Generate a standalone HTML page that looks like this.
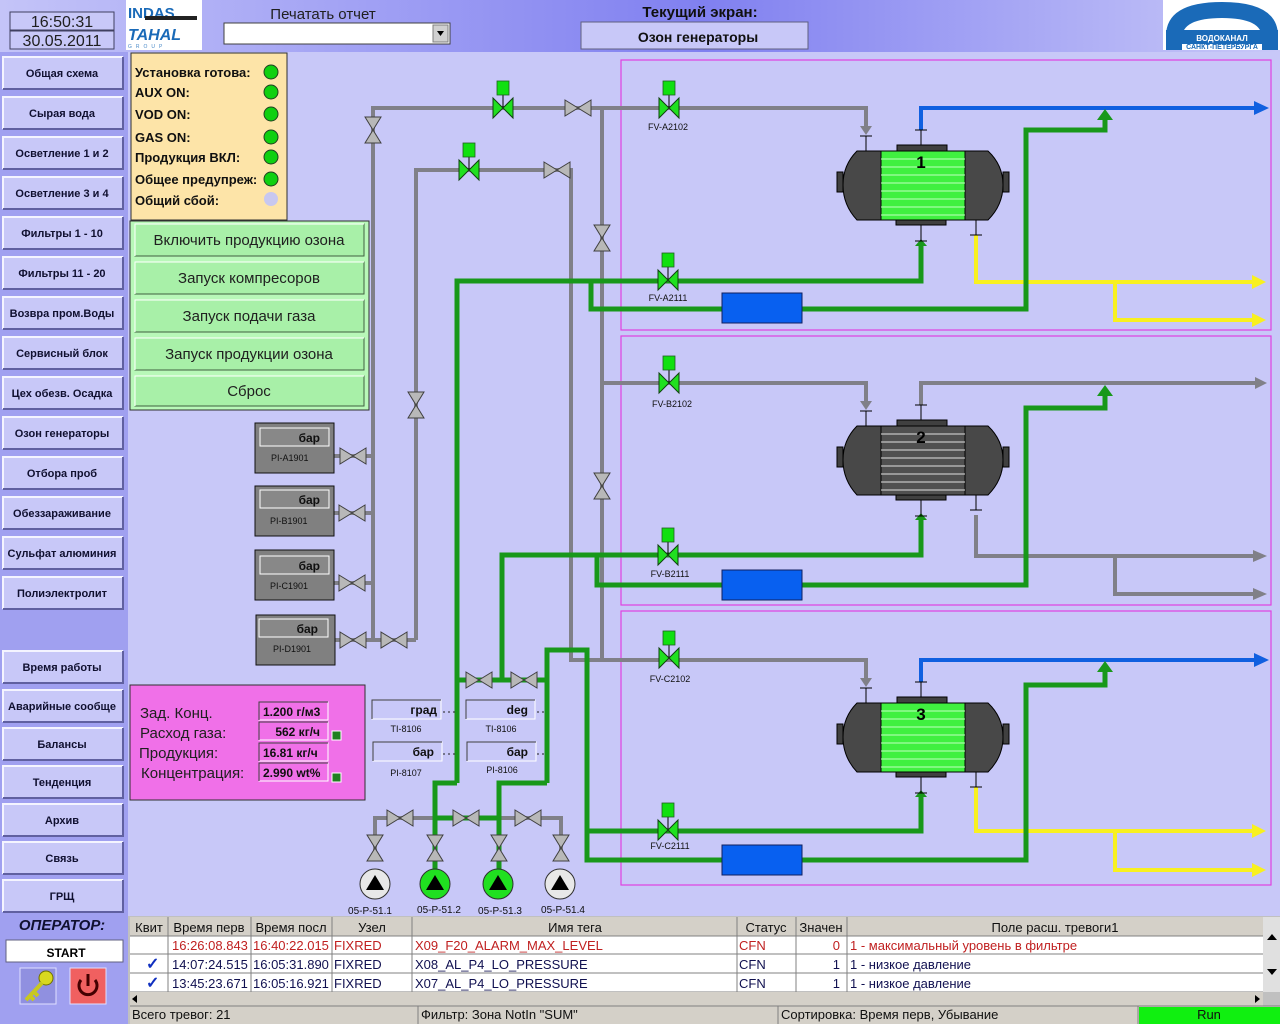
<!DOCTYPE html>
<html><head><meta charset="utf-8"><style>
html,body{margin:0;padding:0;background:#c8c8f8;}
svg{display:block;font-family:"Liberation Sans",sans-serif;}
</style></head><body>
<svg width="1280" height="1024" viewBox="0 0 1280 1024" xmlns="http://www.w3.org/2000/svg">
<defs>
<linearGradient id="hdr" x1="0" x2="1" y1="0" y2="0">
<stop offset="0" stop-color="#c4c4f8"/><stop offset="0.55" stop-color="#8080f0"/><stop offset="1" stop-color="#c8c8f8"/></linearGradient>
<g id="vh"><path d="M-13,-8 L0,0 L-13,8Z M13,-8 L0,0 L13,8Z" fill="#b8b8b8" stroke="#404040" stroke-width="1"/></g>
<g id="vv"><path d="M-8,-13 L0,0 L8,-13Z M-8,13 L0,0 L8,13Z" fill="#b8b8b8" stroke="#404040" stroke-width="1"/></g>
<g id="cv"><line x1="0" y1="0" x2="0" y2="-14" stroke="#000" stroke-width="1"/><rect x="-6" y="-27" width="12" height="14" fill="#10e010" stroke="#206020" stroke-width="0.8"/><path d="M-10,-10 L0,0 L-10,10Z M10,-10 L0,0 L10,10Z" fill="#20e020" stroke="#104010" stroke-width="1"/></g>
<g id="btn"><rect x="0" y="0" width="120" height="32" fill="#c8c8f8"/><path d="M0,32 V0 H120" fill="none" stroke="#f4f4ff" stroke-width="2"/><path d="M0,32 H120 V0" fill="none" stroke="#6060a0" stroke-width="2"/></g>
</defs>

<!-- header -->
<rect x="0" y="0" width="1280" height="52" fill="url(#hdr)"/>
<rect x="0" y="52" width="128" height="864" fill="#a0a0f0"/>
<rect x="10" y="12" width="104" height="18" fill="#c8c8f8" stroke="#404060"/>
<rect x="10" y="31" width="104" height="18" fill="#c8c8f8" stroke="#404060"/>
<text x="62" y="27" font-size="16" text-anchor="middle" fill="#202020">16:50:31</text>
<text x="62" y="46" font-size="16" text-anchor="middle" fill="#202020">30.05.2011</text>
<rect x="126" y="0" width="76" height="50" fill="#fff"/>
<text x="128" y="18" font-size="15" font-weight="bold" fill="#1a6ab8">INDAS</text>
<rect x="145" y="16" width="52" height="4" fill="#222"/>
<text x="128" y="40" font-size="16" font-weight="bold" font-style="italic" fill="#1a6ab8">TAHAL</text>
<text x="128" y="48" font-size="5" fill="#4a8ac8" letter-spacing="4">GROUP</text>
<text x="323" y="19" font-size="15" text-anchor="middle" fill="#202020">Печатать отчет</text>
<rect x="224" y="23" width="226" height="21" fill="#fff" stroke="#404040"/>
<rect x="433" y="25" width="15" height="17" fill="#d0d0d0" stroke="#808080"/>
<path d="M437,31 h7 l-3.5,5z" fill="#000"/>
<text x="700" y="17" font-size="15" font-weight="bold" text-anchor="middle" fill="#101010">Текущий экран:</text>
<rect x="581" y="22" width="227" height="27" fill="#c8c8f8" stroke="#606080"/>
<text x="698" y="42" font-size="14" font-weight="bold" text-anchor="middle" fill="#101010">Озон генераторы</text>
<rect x="1163" y="0" width="117" height="50" fill="#fff"/>
<path d="M1166,50 V36 Q1166,2 1222,2 Q1278,2 1278,36 V50 H1262 V38 Q1262,18 1222,18 Q1182,18 1182,38 V50Z" fill="#1a6ab8"/>
<rect x="1166" y="30" width="112" height="14" fill="#1a6ab8"/>
<text x="1222" y="41" font-size="8" text-anchor="middle" fill="#fff" font-weight="bold">ВОДОКАНАЛ</text>
<text x="1222" y="49" font-size="7" text-anchor="middle" fill="#1a6ab8" font-weight="bold">САНКТ-ПЕТЕРБУРГА</text>

<!-- nav buttons -->
<g font-size="11" font-weight="bold" text-anchor="middle" fill="#101030">
<use href="#btn" x="3" y="57"/><text x="62" y="77">Общая схема</text>
<use href="#btn" x="3" y="97"/><text x="62" y="117">Сырая вода</text>
<use href="#btn" x="3" y="137"/><text x="62" y="157">Осветление 1 и 2</text>
<use href="#btn" x="3" y="177"/><text x="62" y="197">Осветление 3 и 4</text>
<use href="#btn" x="3" y="217"/><text x="62" y="237">Фильтры 1 - 10</text>
<use href="#btn" x="3" y="257"/><text x="62" y="277">Фильтры 11 - 20</text>
<use href="#btn" x="3" y="297"/><text x="62" y="317">Возвра пром.Воды</text>
<use href="#btn" x="3" y="337"/><text x="62" y="357">Сервисный блок</text>
<use href="#btn" x="3" y="377"/><text x="62" y="397">Цех обезв. Осадка</text>
<use href="#btn" x="3" y="417"/><text x="62" y="437">Озон генераторы</text>
<use href="#btn" x="3" y="457"/><text x="62" y="477">Отбора проб</text>
<use href="#btn" x="3" y="497"/><text x="62" y="517">Обеззараживание</text>
<use href="#btn" x="3" y="537"/><text x="62" y="557">Сульфат алюминия</text>
<use href="#btn" x="3" y="577"/><text x="62" y="597">Полиэлектролит</text>
<use href="#btn" x="3" y="651"/><text x="62" y="671">Время работы</text>
<use href="#btn" x="3" y="690"/><text x="62" y="710">Аварийные сообще</text>
<use href="#btn" x="3" y="728"/><text x="62" y="748">Балансы</text>
<use href="#btn" x="3" y="766"/><text x="62" y="786">Тенденция</text>
<use href="#btn" x="3" y="804"/><text x="62" y="824">Архив</text>
<use href="#btn" x="3" y="842"/><text x="62" y="862">Связь</text>
<use href="#btn" x="3" y="880"/><text x="62" y="900">ГРЩ</text>
</g>
<rect x="0" y="916" width="128" height="108" fill="#a0a0f0"/>
<text x="62" y="930" font-size="15" font-weight="bold" font-style="italic" text-anchor="middle" fill="#101030">ОПЕРАТОР:</text>
<rect x="6" y="940" width="117" height="22" fill="#fff" stroke="#606080"/>
<text x="66" y="957" font-size="12" font-weight="bold" text-anchor="middle">START</text>
<rect x="20" y="968" width="36" height="36" fill="#9090e0" stroke="#e0e0ff"/>
<circle cx="46" cy="978" r="7" fill="#d8d820" stroke="#707000"/>
<path d="M42,983 L26,1000 M30,996 l4,4 M34,992 l4,4" stroke="#c8c820" stroke-width="4"/>
<rect x="70" y="968" width="36" height="36" fill="#f06060" stroke="#e0e0ff"/>
<path d="M81,980 A9,9 0 1,0 95,980" fill="none" stroke="#400" stroke-width="3"/>
<line x1="88" y1="974" x2="88" y2="986" stroke="#400" stroke-width="3"/>

<!-- magenta frames -->
<g fill="none" stroke="#e040e0" stroke-width="1.2">
<rect x="621" y="60" width="650" height="270"/>
<rect x="621" y="336" width="650" height="269"/>
<rect x="621" y="611" width="650" height="274"/>
</g>

<!-- gray pipes -->
<g fill="none" stroke="#808088" stroke-width="4">
<path d="M373,640 V108 H866 V128"/>
<path d="M416,640 V170 H571 V660 H866 V680"/>
<path d="M602,108 V660"/>
<path d="M602,383 H866 V403"/>
<path d="M334,456 H373 M334,513 H373 M334,583 H373 M334,640 H416"/>
<path d="M375,860 V818 H561 V860"/>
<path d="M921,130 V108 M921,405 V383 H1255"/>
<path d="M976,515 V556 H1255 M1115,556 V594 H1255"/>
</g>
<g fill="#808088">
<path d="M860,126 h12 l-6,9z"/><path d="M860,401 h12 l-6,9z"/><path d="M860,678 h12 l-6,9z"/>
<path d="M1255,377 l12,6 l-12,6z"/><path d="M1253,550 l14,6 l-14,6z"/><path d="M1253,588 l14,6 l-14,6z"/>
</g>
<!-- blue / yellow row A & C -->
<g fill="none" stroke="#1060e0" stroke-width="4"><path d="M921,130 V108 H1256"/><path d="M921,682 V660 H1256"/></g>
<g fill="#1060e0"><path d="M1254,101 l15,7 l-15,7z"/><path d="M1254,653 l15,7 l-15,7z"/></g>
<g fill="none" stroke="#f8f020" stroke-width="4"><path d="M976,235 V282 H1254 M1115,282 V320 H1254"/><path d="M976,787 V831 H1254 M1115,831 V870 H1254"/></g>
<g fill="#f8f020"><path d="M1252,275 l14,7 l-14,7z"/><path d="M1252,313 l14,7 l-14,7z"/><path d="M1252,824 l14,7 l-14,7z"/><path d="M1252,863 l14,7 l-14,7z"/></g>

<!-- green pipes -->
<g fill="none" stroke="#18981a" stroke-width="5">
<path d="M457,783 V281 H921 V246"/>
<path d="M591,281 V309 H722 M802,309 H1026 V130 H1105 V120"/>
<path d="M457,680 H547 M502,680 V555 H921 V520"/>
<path d="M597,555 V585 H722 M802,585 H1026 V408 H1105 V396"/>
<path d="M547,783 V650 H587 V860 H722 M587,831 H921 V797"/>
<path d="M802,860 H1026 V685 H1105 V672"/>
<path d="M457,783 H435 V885 M547,783 H499 V885 M435,818 H499"/>
</g>
<g fill="#18981a">
<path d="M1097,120 l8,-11 l8,11z"/><path d="M1097,396 l8,-11 l8,11z"/><path d="M1097,672 l8,-11 l8,11z"/>
<path d="M915,246 l6,-7 l6,7z"/><path d="M915,520 l6,-7 l6,7z"/><path d="M915,797 l6,-7 l6,7z"/>
</g>
<!-- blue boxes -->
<g fill="#0860f0" stroke="#102060"><rect x="722" y="293" width="80" height="30"/><rect x="722" y="570" width="80" height="30"/><rect x="722" y="845" width="80" height="30"/></g>

<!-- stubs -->
<g stroke="#000" stroke-width="1" fill="none">
<path d="M866,136 V151 M860,136 h12 M921,130 V145 M915,130 h12 M921,225 V241 M915,241 h12 M976,220 V235 M970,235 h12"/>
<path d="M866,411 V426 M860,411 h12 M921,405 V420 M915,405 h12 M921,500 V516 M915,516 h12 M976,495 V510 M970,510 h12"/>
<path d="M866,688 V703 M860,688 h12 M921,682 V697 M915,682 h12 M921,777 V793 M915,793 h12 M976,772 V787 M970,787 h12"/>
</g>

<!-- tanks -->
<g transform="translate(921,185)">
<rect x="-84" y="-13" width="6" height="20" fill="#404040" stroke="#000"/><rect x="82" y="-13" width="6" height="20" fill="#404040" stroke="#000"/>
<rect x="-24" y="-40" width="50" height="6" fill="#404040" stroke="#000"/><rect x="-25" y="35" width="50" height="5" fill="#404040" stroke="#000"/>
<path d="M-40,-34 L-64,-34 Q-78,-20 -78,0 Q-78,20 -64,35 L-40,35Z" fill="#484848" stroke="#000"/>
<path d="M44,-34 L67,-34 Q82,-20 82,0 Q82,20 67,35 L44,35Z" fill="#484848" stroke="#000"/>
<rect x="-40" y="-34" width="84" height="69" fill="#40f040" stroke="#000"/>
<path d="M-40,-26H44M-40,-18H44M-40,-10H44M-40,-2H44M-40,6H44M-40,14H44M-40,22H44M-40,30H44" stroke="#c0ffc0" stroke-width="1"/>
<text x="0" y="-17" font-size="17" font-weight="bold" text-anchor="middle">1</text>
</g>
<g transform="translate(921,460)">
<rect x="-84" y="-13" width="6" height="20" fill="#404040" stroke="#000"/><rect x="82" y="-13" width="6" height="20" fill="#404040" stroke="#000"/>
<rect x="-24" y="-40" width="50" height="6" fill="#404040" stroke="#000"/><rect x="-25" y="35" width="50" height="5" fill="#404040" stroke="#000"/>
<path d="M-40,-34 L-64,-34 Q-78,-20 -78,0 Q-78,20 -64,35 L-40,35Z" fill="#484848" stroke="#000"/>
<path d="M44,-34 L67,-34 Q82,-20 82,0 Q82,20 67,35 L44,35Z" fill="#484848" stroke="#000"/>
<rect x="-40" y="-34" width="84" height="69" fill="#505050" stroke="#000"/>
<path d="M-40,-26H44M-40,-18H44M-40,-10H44M-40,-2H44M-40,6H44M-40,14H44M-40,22H44M-40,30H44" stroke="#e0e0e0" stroke-width="1"/>
<text x="0" y="-17" font-size="17" font-weight="bold" text-anchor="middle">2</text>
</g>
<g transform="translate(921,737)">
<rect x="-84" y="-13" width="6" height="20" fill="#404040" stroke="#000"/><rect x="82" y="-13" width="6" height="20" fill="#404040" stroke="#000"/>
<rect x="-24" y="-40" width="50" height="6" fill="#404040" stroke="#000"/><rect x="-25" y="35" width="50" height="5" fill="#404040" stroke="#000"/>
<path d="M-40,-34 L-64,-34 Q-78,-20 -78,0 Q-78,20 -64,35 L-40,35Z" fill="#484848" stroke="#000"/>
<path d="M44,-34 L67,-34 Q82,-20 82,0 Q82,20 67,35 L44,35Z" fill="#484848" stroke="#000"/>
<rect x="-40" y="-34" width="84" height="69" fill="#40f040" stroke="#000"/>
<path d="M-40,-26H44M-40,-18H44M-40,-10H44M-40,-2H44M-40,6H44M-40,14H44M-40,22H44M-40,30H44" stroke="#c0ffc0" stroke-width="1"/>
<text x="0" y="-17" font-size="17" font-weight="bold" text-anchor="middle">3</text>
</g>

<!-- valves -->
<use href="#vv" x="373" y="130"/><use href="#vh" x="578" y="108"/><use href="#vh" x="557" y="170"/>
<use href="#vv" x="602" y="238"/><use href="#vv" x="602" y="486"/><use href="#vv" x="416" y="405"/>
<use href="#vh" x="353" y="456"/><use href="#vh" x="352" y="513"/><use href="#vh" x="352" y="583"/><use href="#vh" x="353" y="640"/><use href="#vh" x="394" y="640"/>
<use href="#vh" x="479" y="680"/><use href="#vh" x="524" y="680"/>
<use href="#vh" x="400" y="818"/><use href="#vh" x="466" y="818"/><use href="#vh" x="528" y="818"/>
<use href="#vv" x="375" y="848"/><use href="#vv" x="435" y="848"/><use href="#vv" x="499" y="848"/><use href="#vv" x="561" y="848"/>
<use href="#cv" x="503" y="108"/><use href="#cv" x="469" y="170"/>
<use href="#cv" x="669" y="108"/><use href="#cv" x="668" y="280"/>
<use href="#cv" x="669" y="383"/><use href="#cv" x="668" y="555"/>
<use href="#cv" x="669" y="658"/><use href="#cv" x="668" y="830"/>
<g font-size="9" text-anchor="middle" fill="#101010">
<text x="668" y="130">FV-A2102</text><text x="668" y="301">FV-A2111</text>
<text x="672" y="407">FV-B2102</text><text x="670" y="577">FV-B2111</text>
<text x="670" y="682">FV-C2102</text><text x="670" y="849">FV-C2111</text>
</g>

<!-- pumps -->
<g stroke="#303030" stroke-width="1">
<circle cx="375" cy="884" r="15" fill="#e8e8e8"/><circle cx="435" cy="884" r="15" fill="#20e020"/>
<circle cx="498" cy="884" r="15" fill="#20e020"/><circle cx="560" cy="884" r="15" fill="#e8e8e8"/>
</g>
<g fill="#000"><path d="M366,890 l9,-15 l9,15z"/><path d="M426,890 l9,-15 l9,15z"/><path d="M489,890 l9,-15 l9,15z"/><path d="M551,890 l9,-15 l9,15z"/></g>
<g font-size="10" text-anchor="middle" fill="#101010">
<text x="370" y="914">05-P-51.1</text><text x="439" y="913">05-P-51.2</text><text x="500" y="914">05-P-51.3</text><text x="563" y="913">05-P-51.4</text>
</g>

<!-- status panel -->
<rect x="131" y="53" width="156" height="167" fill="#fde4a8" stroke="#303030"/>
<g font-size="13" font-weight="bold" fill="#101010">
<text x="135" y="77">Установка готова:</text><text x="135" y="97">AUX ON:</text><text x="135" y="119">VOD ON:</text>
<text x="135" y="142">GAS ON:</text><text x="135" y="162">Продукция ВКЛ:</text><text x="135" y="184">Общее предупреж:</text><text x="135" y="205">Общий сбой:</text>
</g>
<g stroke="#204020"><circle cx="271" cy="72" r="7" fill="#10d010"/><circle cx="271" cy="92" r="7" fill="#10d010"/><circle cx="271" cy="114" r="7" fill="#10d010"/><circle cx="271" cy="137" r="7" fill="#10d010"/><circle cx="271" cy="157" r="7" fill="#10d010"/><circle cx="271" cy="179" r="7" fill="#10d010"/></g>
<circle cx="271" cy="199" r="7" fill="#c8c8f0"/>

<!-- command buttons -->
<rect x="130" y="221" width="239" height="189" fill="#b8f8b8" stroke="#303030"/>
<g font-size="15" text-anchor="middle" fill="#202020">
<rect x="135" y="224" width="229" height="32" fill="#a8f0a8" stroke="#406040"/><path d="M135,256 V224 H364" stroke="#fff" fill="none"/><text x="249" y="245">Включить продукцию озона</text>
<rect x="135" y="262" width="229" height="32" fill="#a8f0a8" stroke="#406040"/><path d="M135,294 V262 H364" stroke="#fff" fill="none"/><text x="249" y="283">Запуск компресоров</text>
<rect x="135" y="300" width="229" height="32" fill="#a8f0a8" stroke="#406040"/><path d="M135,332 V300 H364" stroke="#fff" fill="none"/><text x="249" y="321">Запуск подачи газа</text>
<rect x="135" y="338" width="229" height="32" fill="#a8f0a8" stroke="#406040"/><path d="M135,370 V338 H364" stroke="#fff" fill="none"/><text x="249" y="359">Запуск продукции озона</text>
<rect x="135" y="376" width="229" height="30" fill="#a8f0a8" stroke="#406040"/><path d="M135,406 V376 H364" stroke="#fff" fill="none"/><text x="249" y="396">Сброс</text>
</g>

<!-- pressure gauges -->
<g font-size="9" fill="#101010">
<rect x="255" y="423" width="79" height="50" fill="#808080" stroke="#101010"/><rect x="260" y="428" width="69" height="18" fill="#888" stroke="#fff"/><text x="320" y="442" font-size="12" font-weight="bold" text-anchor="end">бар</text><text x="271" y="461">PI-A1901</text>
<rect x="255" y="486" width="79" height="50" fill="#808080" stroke="#101010"/><rect x="260" y="490" width="69" height="18" fill="#888" stroke="#fff"/><text x="320" y="504" font-size="12" font-weight="bold" text-anchor="end">бар</text><text x="270" y="524">PI-B1901</text>
<rect x="255" y="550" width="79" height="50" fill="#808080" stroke="#101010"/><rect x="260" y="556" width="69" height="18" fill="#888" stroke="#fff"/><text x="320" y="570" font-size="12" font-weight="bold" text-anchor="end">бар</text><text x="270" y="589">PI-C1901</text>
<rect x="256" y="615" width="79" height="50" fill="#808080" stroke="#101010"/><rect x="259" y="619" width="69" height="18" fill="#888" stroke="#fff"/><text x="318" y="633" font-size="12" font-weight="bold" text-anchor="end">бар</text><text x="273" y="652">PI-D1901</text>
</g>

<!-- instrument boxes -->
<g font-size="12" font-weight="bold" fill="#101010">
<rect x="372" y="700" width="69" height="19" fill="#c8c8f8" stroke="#fff"/><path d="M372,719 V700 H441" stroke="#404040" fill="none"/><text x="437" y="714" text-anchor="end">град</text>
<rect x="466" y="700" width="69" height="19" fill="#c8c8f8" stroke="#fff"/><path d="M466,719 V700 H535" stroke="#404040" fill="none"/><text x="528" y="714" text-anchor="end">deg</text>
<rect x="373" y="742" width="69" height="19" fill="#c8c8f8" stroke="#fff"/><path d="M373,761 V742 H442" stroke="#404040" fill="none"/><text x="434" y="756" text-anchor="end">бар</text>
<rect x="467" y="742" width="69" height="19" fill="#c8c8f8" stroke="#fff"/><path d="M467,761 V742 H536" stroke="#404040" fill="none"/><text x="528" y="756" text-anchor="end">бар</text>
</g>
<g stroke="#202020" stroke-dasharray="2,3"><path d="M443,712 H457 M537,712 H547 M443,754 H457 M537,754 H547"/></g>
<g font-size="9" text-anchor="middle" fill="#101010"><text x="406" y="732">TI-8106</text><text x="501" y="732">TI-8106</text><text x="406" y="776">PI-8107</text><text x="502" y="773">PI-8106</text></g>

<!-- pink panel -->
<rect x="130" y="685" width="235" height="115" fill="#f070e8" stroke="#303030"/>
<g font-size="15" fill="#202020"><text x="140" y="718">Зад. Конц.</text><text x="140" y="738">Расход газа:</text><text x="139" y="758">Продукция:</text><text x="141" y="778">Концентрация:</text></g>
<g font-size="12" font-weight="bold" fill="#101010">
<rect x="259" y="702" width="69" height="18" fill="#f070e8" stroke="#fff"/><path d="M259,720 V702 H328" stroke="#404040" fill="none"/><text x="263" y="716">1.200 г/м3</text>
<rect x="259" y="722" width="69" height="18" fill="#f070e8" stroke="#fff"/><path d="M259,740 V722 H328" stroke="#404040" fill="none"/><text x="320" y="736" text-anchor="end">562 кг/ч</text>
<rect x="259" y="743" width="69" height="18" fill="#f070e8" stroke="#fff"/><path d="M259,761 V743 H328" stroke="#404040" fill="none"/><text x="263" y="757">16.81 кг/ч</text>
<rect x="259" y="763" width="69" height="18" fill="#f070e8" stroke="#fff"/><path d="M259,781 V763 H328" stroke="#404040" fill="none"/><text x="263" y="777">2.990 wt%</text>
</g>
<rect x="332" y="731" width="9" height="9" fill="#208020" stroke="#fff"/><rect x="332" y="773" width="9" height="9" fill="#208020" stroke="#fff"/>

<!-- alarm table -->
<rect x="128" y="916" width="1152" height="108" fill="#c0c0c0"/>
<rect x="130" y="917" width="1133" height="19" fill="#d4d0c8"/>
<rect x="130" y="936" width="1133" height="56" fill="#fff"/>
<g stroke="#808080" stroke-width="1"><path d="M168,917V992 M251,917V992 M332,917V992 M412,917V992 M737,917V992 M796,917V992 M847,917V992 M130,936H1263 M130,954H1263 M130,973H1263 M130,992H1263"/></g>
<g font-size="13" fill="#101010">
<text x="149" y="932" text-anchor="middle">Квит</text><text x="209" y="932" text-anchor="middle">Время перв</text><text x="291" y="932" text-anchor="middle">Время посл</text><text x="372" y="932" text-anchor="middle">Узел</text><text x="575" y="932" text-anchor="middle">Имя тега</text><text x="766" y="932" text-anchor="middle">Статус</text><text x="821" y="932" text-anchor="middle">Значен</text><text x="1055" y="932" text-anchor="middle">Поле расш. тревоги1</text>
</g>
<g font-size="13" fill="#c02020"><text x="172" y="950">16:26:08.843</text><text x="253" y="950">16:40:22.015</text><text x="334" y="950">FIXRED</text><text x="415" y="950">X09_F20_ALARM_MAX_LEVEL</text><text x="739" y="950">CFN</text><text x="840" y="950" text-anchor="end">0</text><text x="850" y="950">1 -  максимальный уровень в фильтре</text></g>
<g font-size="13" fill="#101050"><text x="172" y="969">14:07:24.515</text><text x="253" y="969">16:05:31.890</text><text x="334" y="969">FIXRED</text><text x="415" y="969">X08_AL_P4_LO_PRESSURE</text><text x="739" y="969">CFN</text><text x="840" y="969" text-anchor="end">1</text><text x="850" y="969">1 - низкое давление</text>
<text x="172" y="988">13:45:23.671</text><text x="253" y="988">16:05:16.921</text><text x="334" y="988">FIXRED</text><text x="415" y="988">X07_AL_P4_LO_PRESSURE</text><text x="739" y="988">CFN</text><text x="840" y="988" text-anchor="end">1</text><text x="850" y="988">1 - низкое давление</text></g>
<g font-size="16" fill="#1030c0" font-weight="bold"><text x="146" y="969">✓</text><text x="146" y="988">✓</text></g>
<rect x="1263" y="917" width="17" height="75" fill="#e0e0e0"/>
<path d="M1267,940 l5,-6 l5,6z M1267,969 l5,6 l5,-6z" fill="#000"/>
<rect x="130" y="992" width="1133" height="14" fill="#d4d0c8"/>
<path d="M133,995 v8 l-5,-4z" fill="#000" transform="translate(4,0)"/><path d="M1255,995 v8 l5,-4z" fill="#000"/>
<rect x="130" y="1006" width="1150" height="18" fill="#d4d0c8"/>
<g stroke="#808080"><path d="M418,1006V1024 M778,1006V1024 M1138,1006V1024 M130,1006H1280"/></g>
<rect x="1139" y="1007" width="141" height="17" fill="#10f010"/>
<g font-size="13" fill="#101010"><text x="132" y="1019">Всего тревог: 21</text><text x="421" y="1019">Фильтр: Зона NotIn "SUM"</text><text x="781" y="1019">Сортировка: Время перв, Убывание</text><text x="1209" y="1019" text-anchor="middle">Run</text></g>
</svg>
</body></html>
